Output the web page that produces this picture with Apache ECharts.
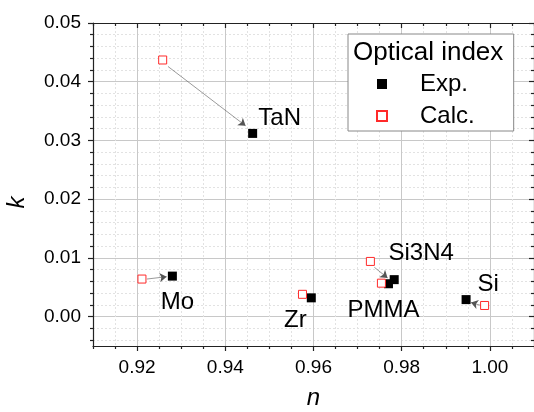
<!DOCTYPE html>
<html>
<head>
<meta charset="utf-8">
<script src="https://cdn.jsdelivr.net/npm/echarts@6/dist/echarts.min.js"></script>
<style>
    html, body { margin: 0; padding: 0; background: #fff; }
    #chart { width: 534px; height: 412px; }
</style>
</head>
<body>
<div id="chart"></div>
<script>
// materials and optical index values (n, k)
const materials = ['TaN', 'Mo', 'Zr', 'Si3N4', 'PMMA', 'Si']
const expN = [0.9462, 0.9280, 0.9595, 0.9783, 0.9770, 0.9946]
const expK = [0.0312, 0.0069, 0.0032, 0.0063, 0.0056, 0.0029]
const calcN = [0.9258, 0.9211, 0.9575, 0.9729, 0.9754, 0.9988]
const calcK = [0.0437, 0.0064, 0.0038, 0.0094, 0.0057, 0.0019]

// arrows calc -> exp (TaN, Mo, Si3N4, Si)
const arrowFrom = [[0.9270, 0.0426], [0.9222, 0.0064], [0.9738, 0.0084], [0.9989, 0.0017]]
const arrowTo = [[0.9446, 0.0325], [0.9267, 0.0068], [0.9768, 0.0066], [0.9957, 0.0024]]

// ticks
const xTicks = [0.92, 0.94, 0.96, 0.98, 1.00]
const xMinorTicks = [0.91, 0.915, 0.925, 0.93, 0.935, 0.945, 0.95, 0.955, 0.965, 0.97, 0.975,
    0.985, 0.99, 0.995, 1.005, 1.01]
const yTicks = [0.00, 0.01, 0.02, 0.03, 0.04, 0.05]
const yMinorTicks = [-0.004, -0.002, 0.002, 0.004, 0.006, 0.008, 0.012, 0.014, 0.016, 0.018,
    0.022, 0.024, 0.026, 0.028, 0.032, 0.034, 0.036, 0.038, 0.042, 0.044, 0.046, 0.048]

// label offsets from the Exp. point (px)
const labelOffset = {
    TaN: [27, -15],
    Mo: [5, 26],
    Zr: [-16, 23],
    Si3N4: [27, -26],
    PMMA: [-5, 27],
    Si: [22, -15]
}

const FONT = '"Liberation Sans", Arial, sans-serif'
const AXIS_COLOR = '#222'

const chart = echarts.init(document.getElementById('chart'))

function makeAxis(dim, pos, ticks, len, inside, opts) {
    const base = {
        type: 'value',
        position: pos,
        min: dim === 'x' ? 0.91 : -0.005,
        max: dim === 'x' ? 1.01 : 0.05,
        axisLine: { show: false, onZero: false, lineStyle: { color: AXIS_COLOR, width: 1.2 } },
        axisTick: {
            show: true,
            inside: inside,
            length: len,
            customValues: ticks,
            lineStyle: { color: AXIS_COLOR, width: 1.2 }
        },
        axisLabel: { show: false },
        splitLine: { show: false }
    }
    return Object.assign(base, opts || {})
}

const option = {
    animation: false,
    backgroundColor: '#fff',
    textStyle: { fontFamily: FONT },
    grid: { left: 93, right: 0, top: 23, bottom: 66, containLabel: false, outerBoundsMode: 'none' },
    title: {
        text: 'Optical index',
        left: 353,
        top: 40,
        padding: 0,
        textStyle: { fontSize: 26, fontWeight: 'normal', color: '#000', fontFamily: FONT }
    },
    legend: {
        data: ['Exp.', 'Calc.'],
        orient: 'vertical',
        left: 348,
        top: 34,
        padding: [37, 39, 2, 28],
        itemWidth: 10,
        itemHeight: 10,
        itemGap: 6,
        borderColor: '#888',
        borderWidth: 1,
        borderRadius: 0,
        backgroundColor: '#fff',
        textStyle: { fontSize: 24, color: '#000', lineHeight: 26, padding: [0, 0, 0, 28], fontFamily: FONT }
    },
    xAxis: [
        // minor ticks + dashed grid
        makeAxis('x', 'bottom', xMinorTicks, 3, false, {
            splitLine: { show: true, lineStyle: { color: '#e2e2e2', width: 1, type: [2, 2] } },
            axisLine: { show: true, onZero: false, lineStyle: { color: AXIS_COLOR, width: 1.2 } },
            name: 'n',
            nameLocation: 'middle',
            nameGap: 40,
            nameTextStyle: { fontStyle: 'italic', fontSize: 24, color: '#000', fontFamily: FONT }
        }),
        // major ticks, labels, solid grid
        makeAxis('x', 'bottom', xTicks, 5, false, {
            axisLabel: {
                show: true,
                customValues: xTicks,
                formatter: v => v.toFixed(2),
                color: '#000',
                fontSize: 19,
                margin: 12,
                fontFamily: FONT
            },
            splitLine: { show: true, lineStyle: { color: '#c8c8c8', width: 1 } }
        }),
        makeAxis('x', 'top', xMinorTicks, 3, true, {
            axisLine: { show: true, onZero: false, lineStyle: { color: AXIS_COLOR, width: 1.2 } }
        }),
        makeAxis('x', 'top', xTicks, 5, true)
    ],
    yAxis: [
        makeAxis('y', 'left', yMinorTicks, 3, false, {
            splitLine: { show: true, lineStyle: { color: '#e2e2e2', width: 1, type: [2, 2] } },
            axisLine: { show: true, onZero: false, lineStyle: { color: AXIS_COLOR, width: 1.2 } },
            name: 'k',
            nameLocation: 'middle',
            nameGap: 64,
            nameRotate: 90,
            nameTextStyle: { fontStyle: 'italic', fontSize: 24, color: '#000', padding: [0, 36, 0, 0], fontFamily: FONT }
        }),
        makeAxis('y', 'left', yTicks, 5, false, {
            axisLabel: {
                show: true,
                customValues: yTicks,
                formatter: v => v.toFixed(2),
                color: '#000',
                fontSize: 19,
                margin: 12,
                fontFamily: FONT
            },
            splitLine: { show: true, lineStyle: { color: '#c8c8c8', width: 1 } }
        }),
        makeAxis('y', 'right', yMinorTicks, 3, true, {
            axisLine: { show: true, onZero: false, lineStyle: { color: AXIS_COLOR, width: 1.2 } }
        }),
        makeAxis('y', 'right', yTicks, 5, true)
    ],
    series: [
        {
            name: 'arrows',
            type: 'lines',
            coordinateSystem: 'cartesian2d',
            xAxisIndex: 0,
            yAxisIndex: 0,
            symbol: ['none', 'arrow'],
            symbolSize: [0, 7],
            lineStyle: { color: '#555', width: 0.6, opacity: 1 },
            z: 2,
            data: arrowFrom.map((p, i) => ({ coords: [p, arrowTo[i]] }))
        },
        {
            name: 'Exp.',
            type: 'scatter',
            xAxisIndex: 0,
            yAxisIndex: 0,
            symbol: 'rect',
            symbolSize: 9,
            itemStyle: { color: '#000', opacity: 1 },
            z: 3,
            label: {
                show: true,
                position: 'inside',
                align: 'center',
                verticalAlign: 'middle',
                fontSize: 24,
                color: '#000',
                fontFamily: FONT,
                formatter: p => p.name
            },
            data: materials.map((m, i) => ({
                name: m,
                value: [expN[i], expK[i]],
                label: { offset: labelOffset[m] }
            }))
        },
        {
            name: 'Calc.',
            type: 'scatter',
            xAxisIndex: 0,
            yAxisIndex: 0,
            symbol: 'rect',
            symbolSize: 8,
            itemStyle: { color: '#fff', borderColor: '#ff2a2a', borderWidth: 1, opacity: 1 },
            z: 4,
            data: materials.map((m, i) => [calcN[i], calcK[i]])
        }
    ]
}

chart.setOption(option)
</script>
</body>
</html>
